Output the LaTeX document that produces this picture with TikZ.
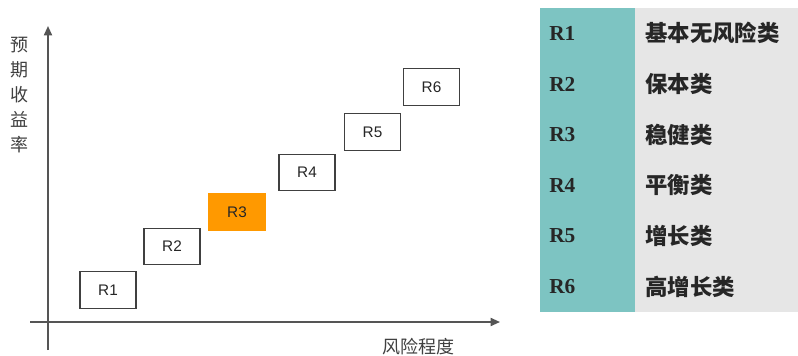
\documentclass[tikz,border=0pt]{standalone}
\usepackage{fontspec}
\setmainfont{Liberation Serif}
\newfontfamily\cjk{Noto Sans CJK SC}
\newfontfamily\arialf{Liberation Sans}
\usetikzlibrary{arrows.meta}
\definecolor{tealc}{HTML}{7DC4C2}
\definecolor{grayc}{HTML}{E6E6E6}
\definecolor{orangec}{HTML}{FF9900}
\definecolor{axisc}{HTML}{555555}
\begin{document}
\begin{tikzpicture}[x=0.75pt,y=-0.75pt,
  rbox/.style={draw=black!75,line width=0.9pt,minimum width=42pt,minimum height=27.5pt,inner sep=0pt,font=\arialf\fontsize{11.5}{13}\selectfont,text=black!85},
  axisline/.style={draw=axisc,line width=1.3pt,-{Triangle[length=7pt,width=6pt]}},
  axlabel/.style={font=\cjk\fontsize{13.5}{18.75}\selectfont,text=black!75,inner sep=0pt},
  tcell/.style={minimum width=71.25pt,minimum height=38pt,inner sep=0pt,fill=tealc},
  gcell/.style={minimum width=122.25pt,minimum height=38pt,inner sep=0pt,fill=grayc},
  rlab/.style={anchor=west,font=\bfseries\fontsize{16}{18}\selectfont,inner sep=0pt,text=black!85},
  clab/.style={anchor=west,font=\cjk\bfseries\fontsize{16.8}{18}\selectfont,inner sep=0pt,text=black!85}]
\useasboundingbox (0,0) rectangle (798,356);
\fill[white] (0,0) rectangle (798,356);
% axes
\coordinate (ybot) at (48,350);
\coordinate (ytop) at (48,26);
\coordinate (xleft) at (30,322);
\coordinate (xright) at (500,322);
\draw[axisline] (ybot) -- (ytop);
\draw[axisline] (xleft) -- (xright);
\node[axlabel,align=center] (ylab) at (20,95) {预\\期\\收\\益\\率};
\node[axlabel] (xlab) at (418,347) {风险程度};
% boxes
\node[rbox] (r1) at (108,290) {R1};
\node[rbox] (r2) at (172,246.5) {R2};
\node[rbox,fill=orangec,draw=orangec] (r3) at (237,212) {R3};
\node[rbox] (r4) at (307,172.5) {R4};
\node[rbox] (r5) at (372.5,132) {R5};
\node[rbox] (r6) at (431.5,87) {R6};
% table
\foreach \i/\txt in {0/基本无风险类,1/保本类,2/稳健类,3/平衡类,4/增长类,5/高增长类}{
  \pgfmathsetmacro{\cy}{33.33+50.67*\i}
  \pgfmathtruncatemacro{\n}{\i+1}
  \node[tcell] (t\n) at (587.5,\cy) {};
  \node[gcell] (g\n) at (716.5,\cy) {};
  \node[rlab] (tl\n) at (549,\cy) {R\n};
  \node[clab] (gl\n) at (645,\cy) {\txt};
}
\end{tikzpicture}
\end{document}
